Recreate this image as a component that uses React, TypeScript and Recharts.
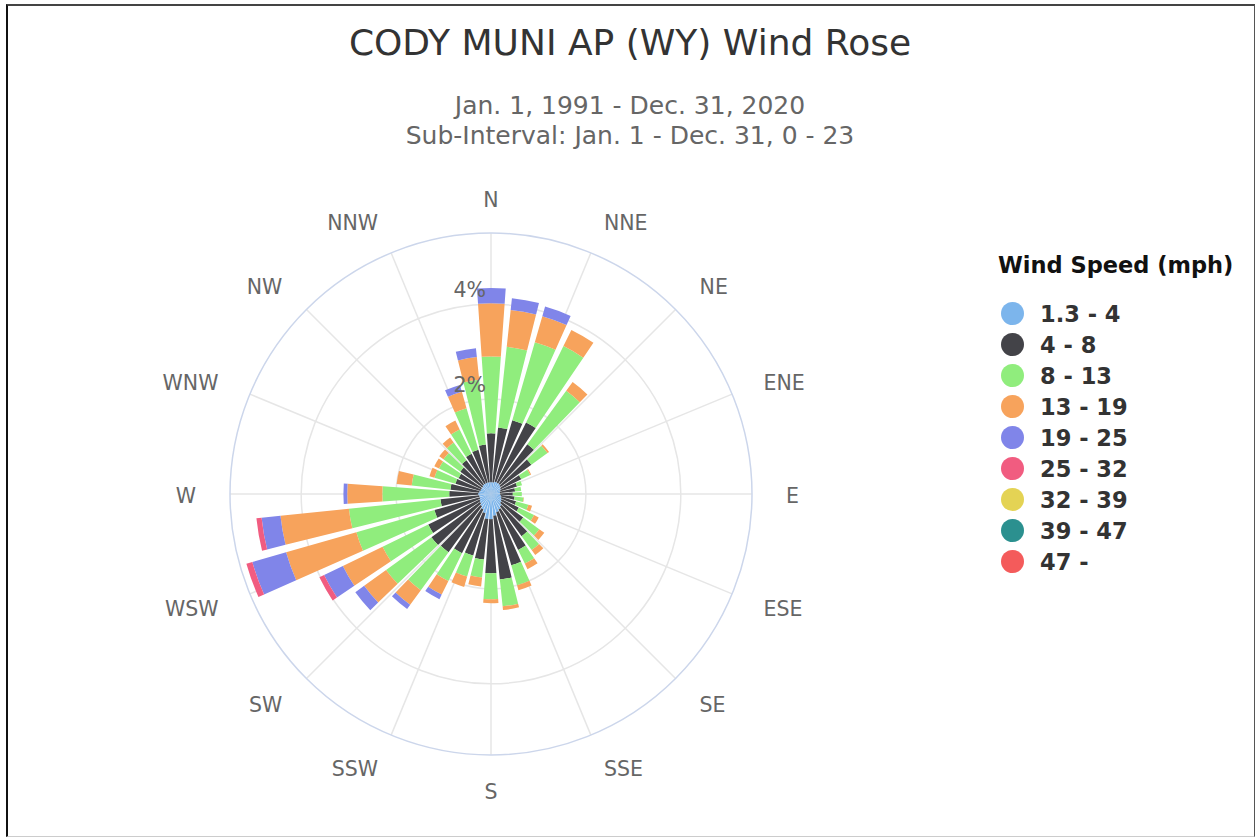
import React from "react";
import { Legend, PolarAngleAxis, PolarGrid, PolarRadiusAxis, RadialBar, RadialBarChart } from "recharts";

// 36 direction bins (degrees), 10 apart, starting at north and turning clockwise
const DIRECTIONS = [
  0, 10, 20, 30, 40, 50, 60, 70, 80, 90, 100, 110,
  120, 130, 140, 150, 160, 170, 180, 190, 200, 210, 220, 230,
  240, 250, 260, 270, 280, 290, 300, 310, 320, 330, 340, 350,
];

const COMPASS_TICKS = [0, 22.5, 45, 67.5, 90, 112.5, 135, 157.5, 180, 202.5, 225, 247.5, 270, 292.5, 315, 337.5];
const COMPASS_LABELS = ["N", "NNE", "NE", "ENE", "E", "ESE", "SE", "SSE", "S", "SSW", "SW", "WSW", "W", "WNW", "NW", "NNW"];
const FREQ_TICKS = [0, 2, 4];
const FREQ_MAX = 5.5;

const SPEED_BINS = ["1.3 - 4", "4 - 8", "8 - 13", "13 - 19", "19 - 25", "25 - 32", "32 - 39", "39 - 47", "47 -"];
const SPEED_COLORS = ["#7cb5ec", "#434348", "#90ed7d", "#f7a35c", "#8085e9", "#f15c80", "#e4d354", "#2b908f", "#f45b5b"];

// frequency (%) per direction for each speed bin
const SPEED_1_4 = [
  0.25, 0.25, 0.27, 0.27, 0.27, 0.25, 0.23, 0.21, 0.19, 0.19, 0.21, 0.23,
  0.25, 0.27, 0.32, 0.36, 0.4, 0.46, 0.53, 0.53, 0.42, 0.36, 0.32, 0.29,
  0.27, 0.25, 0.25, 0.27, 0.25, 0.23, 0.23, 0.23, 0.25, 0.25, 0.25, 0.25,
];
const SPEED_4_8 = [
  1.03, 1.16, 1.35, 1.41, 1.03, 0.8, 0.48, 0.36, 0.32, 0.27, 0.29, 0.32,
  0.4, 0.57, 0.78, 0.95, 1.16, 1.35, 1.14, 0.86, 0.93, 1.03, 1.2, 1.26,
  1.2, 0.99, 0.82, 0.61, 0.61, 0.55, 0.53, 0.57, 0.63, 0.69, 0.72, 0.8,
];
const SPEED_8_13 = [
  1.62, 1.71, 1.71, 1.79, 1.39, 0.42, 0.21, 0.11, 0.13, 0.19, 0.19, 0.27,
  0.36, 0.42, 0.36, 0.32, 0.44, 0.57, 0.55, 0.38, 0.46, 0.65, 0.99, 1.18,
  1.07, 1.71, 1.94, 1.41, 0.82, 0.46, 0.46, 0.44, 0.46, 0.57, 0.91, 1.37,
];
const SPEED_13_19 = [
  1.12, 0.78, 0.57, 0.38, 0.23, 0.04, 0.02, 0, 0, 0, 0.01, 0.08,
  0.11, 0.13, 0.13, 0.13, 0.11, 0.08, 0.08, 0.19, 0.23, 0.32, 0.38, 0.57,
  0.93, 1.54, 1.45, 0.74, 0.32, 0.11, 0.11, 0.11, 0.13, 0.21, 0.36, 0.48,
];
const SPEED_19_25 = [
  0.32, 0.25, 0.21, 0, 0, 0, 0, 0, 0, 0, 0, 0,
  0, 0, 0, 0, 0, 0, 0, 0, 0, 0.11, 0.11, 0.23,
  0.44, 0.74, 0.4, 0.08, 0, 0, 0, 0, 0, 0, 0.15, 0.19,
];
const SPEED_25_32 = [
  0, 0, 0, 0, 0, 0, 0, 0, 0, 0, 0, 0,
  0, 0, 0, 0, 0, 0, 0, 0, 0, 0, 0, 0,
  0.11, 0.13, 0.11, 0, 0, 0, 0, 0, 0, 0, 0, 0,
];
const SPEED_32_39 = DIRECTIONS.map(() => 0);
const SPEED_39_47 = DIRECTIONS.map(() => 0);
const SPEED_47_UP = DIRECTIONS.map(() => 0);

const SERIES = [SPEED_1_4, SPEED_4_8, SPEED_8_13, SPEED_13_19, SPEED_19_25, SPEED_25_32, SPEED_32_39, SPEED_39_47, SPEED_47_UP];

const data = DIRECTIONS.map((deg, i) => {
  const row: Record<string, number> = { deg };
  SERIES.forEach((s, k) => {
    row[`s${k}`] = s[i];
  });
  return row;
});

const FONT = '"DejaVu Sans", sans-serif';
const CX = 491;
const CY = 494;

const renderCompassTick = (props: any) => {
  const { x, y, payload, textAnchor } = props;
  const label = COMPASS_LABELS[COMPASS_TICKS.indexOf(payload.value)];
  const shift = 2 - Math.sin((payload.coordinate * Math.PI) / 180);
  return (
    <text x={x} y={y + shift} textAnchor={textAnchor} dominantBaseline="central" fill="#666666" fontSize={20.5} fontFamily={FONT}>
      {label}
    </text>
  );
};

const renderFreqTick = (props: any) => {
  const { x, y, payload } = props;
  if (payload.value === 0) return <g />;
  return (
    <text x={x - 5} y={y - 14} textAnchor="end" dominantBaseline="central" fill="#666666" fontSize={20.5} fontFamily={FONT}>
      {`${payload.value}%`}
    </text>
  );
};

const renderFreqTitle = (props: any) => {
  const vb = props?.viewBox ?? {};
  const x = (vb.cx ?? CX) + 9;
  const y = (vb.cy ?? CY) - 211;
  return (
    <text x={x} y={y} transform={`rotate(90 ${x} ${y})`} fill="#666666" fontSize={20.5} fontFamily={FONT}>
      Frequency (%)
    </text>
  );
};

const renderLegend = () => (
  <div style={{ fontFamily: FONT }}>
    <div style={{ fontWeight: "bold", fontSize: 22.5, color: "#111", lineHeight: "30px", marginBottom: 18 }}>
      Wind Speed (mph)
    </div>
    {SPEED_BINS.map((label, i) => (
      <div key={label} style={{ display: "flex", alignItems: "center", height: 31, fontWeight: "bold", fontSize: 22.5, color: "#333333" }}>
        <span
          style={{ display: "inline-block", width: 23, height: 23, borderRadius: "50%", background: SPEED_COLORS[i], marginLeft: 3, marginRight: 16 }}
        />
        {label}
      </div>
    ))}
  </div>
);

export default function App() {
  return (
    <div style={{ position: "absolute", left: 0, top: 0, width: 1255, height: 837, background: "#fff", overflow: "hidden" }}>
      <div
        style={{
          position: "absolute",
          left: 6,
          top: 4,
          width: 1249,
          height: 833,
          boxSizing: "border-box",
          borderLeft: "2px solid #111",
          borderTop: "2px solid #444",
          borderRight: "1px solid #555",
          borderBottom: "1px solid #ccc",
        }}
      />
      <div style={{ position: "absolute", left: 0, top: 0 }}>
        <RadialBarChart
          width={1255}
          height={837}
          data={data}
          cx={CX}
          cy={CY}
          innerRadius={0}
          outerRadius={261}
          startAngle={90}
          endAngle={-260}
          layout="centric"
          barCategoryGap="9%"
          margin={{ top: 0, right: 0, bottom: 0, left: 0 }}
        >
          <PolarGrid angleAxisId="compass" radiusAxisId={0} gridType="circle" stroke="#e6e6e6" strokeWidth={1.5} />
          <PolarAngleAxis
            angleAxisId="compass"
            dataKey="deg"
            type="number"
            ticks={COMPASS_TICKS}
            axisLineType="circle"
            axisLine={{ stroke: "#ccd6eb", strokeWidth: 1.5 }}
            tickLine={false}
            tickSize={34}
            tick={renderCompassTick}
          />
          <PolarAngleAxis dataKey="deg" type="number" ticks={DIRECTIONS} tick={false} axisLine={false} tickLine={false} />
          <PolarRadiusAxis
            radiusAxisId="title"
            angle={90}
            type="number"
            domain={[0, FREQ_MAX]}
            allowDecimals
            tickCount={12}
            tick={false}
            axisLine={false}
            tickLine={false}
            label={renderFreqTitle}
          />
          {SERIES.map((_, k) => (
            <RadialBar key={k} dataKey={`s${k}`} name={SPEED_BINS[k]} stackId="wind" fill={SPEED_COLORS[k]} isAnimationActive={false} />
          ))}
          <PolarRadiusAxis
            angle={90}
            type="number"
            domain={[0, FREQ_MAX]}
            allowDecimals
            tickCount={12}
            ticks={FREQ_TICKS}
            tick={renderFreqTick}
            axisLine={false}
            tickLine={false}
          />
          <Legend
            content={renderLegend}
            layout="vertical"
            align="right"
            verticalAlign="top"
            wrapperStyle={{ left: 998, top: 250, width: 250 }}
          />
        </RadialBarChart>
      </div>
      <div style={{ position: "absolute", left: 0, width: 1260, top: 22, textAlign: "center", fontFamily: FONT, fontSize: 36, lineHeight: "42px", color: "#333333" }}>
        CODY MUNI AP (WY) Wind Rose
      </div>
      <div style={{ position: "absolute", left: 0, width: 1260, top: 91, textAlign: "center", fontFamily: FONT, fontSize: 25, lineHeight: "30px", color: "#666666" }}>
        <div>Jan. 1, 1991 - Dec. 31, 2020</div>
        <div>Sub-Interval: Jan. 1 - Dec. 31, 0 - 23</div>
      </div>
    </div>
  );
}
